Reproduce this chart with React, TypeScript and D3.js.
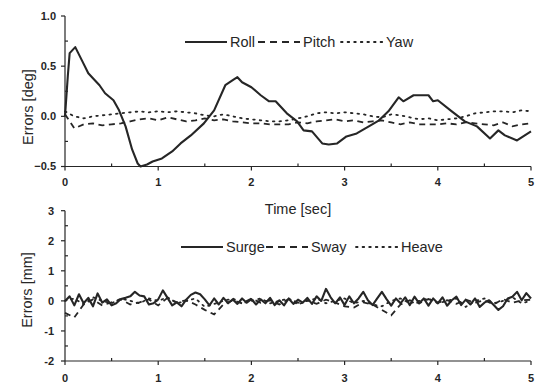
import React from "react";
import * as d3 from "d3";

// ---------- DATA ----------
const rollT = [0, 0.03, 0.05, 0.11, 0.18, 0.25, 0.32, 0.37, 0.43, 0.52, 0.58, 0.65, 0.72, 0.78, 0.81, 0.88, 0.94, 1.04, 1.15, 1.24, 1.35, 1.49, 1.6, 1.72, 1.8, 1.85, 1.9, 2.0, 2.1, 2.19, 2.26, 2.38, 2.49, 2.56, 2.65, 2.76, 2.83, 2.92, 3.02, 3.13, 3.26, 3.37, 3.47, 3.58, 3.63, 3.74, 3.9, 3.95, 4.0, 4.15, 4.29, 4.42, 4.56, 4.65, 4.72, 4.85, 5.0];
const rollV = [0, 0.4, 0.63, 0.69, 0.56, 0.43, 0.36, 0.31, 0.23, 0.16, 0.06, -0.1, -0.33, -0.47, -0.5, -0.48, -0.45, -0.42, -0.35, -0.27, -0.19, -0.07, 0.06, 0.31, 0.36, 0.39, 0.34, 0.29, 0.21, 0.15, 0.15, 0.03, -0.05, -0.14, -0.15, -0.27, -0.28, -0.27, -0.2, -0.17, -0.1, -0.04, 0.05, 0.19, 0.15, 0.21, 0.21, 0.15, 0.16, 0.05, -0.05, -0.1, -0.22, -0.14, -0.19, -0.24, -0.15];

// sampled every 0.1 s
const pitchV = [0.02, -0.12, -0.08, -0.07, -0.09, -0.08, -0.07, -0.05, -0.03, -0.02, -0.04, -0.01, -0.03, -0.05, -0.04, -0.02, -0.04, -0.03, -0.05, -0.06, -0.07, -0.07, -0.08, -0.08, -0.08, -0.06, -0.07, -0.05, -0.04, -0.03, -0.05, -0.04, -0.06, -0.05, -0.04, -0.06, -0.08, -0.06, -0.08, -0.08, -0.08, -0.07, -0.08, -0.06, -0.07, -0.08, -0.09, -0.06, -0.1, -0.08, -0.07];
const yawV = [0.05, 0.0, -0.02, 0.0, 0.01, 0.02, 0.03, 0.04, 0.05, 0.04, 0.05, 0.04, 0.05, 0.04, 0.03, 0.01, 0.0, 0.02, 0.0, -0.02, -0.03, -0.04, -0.05, -0.05, -0.04, -0.02, 0.0, 0.03, 0.04, 0.03, 0.04, 0.03, 0.02, 0.0, -0.01, 0.02, 0.01, -0.01, -0.03, -0.02, -0.04, -0.03, -0.02, 0.0, 0.03, 0.04, 0.05, 0.05, 0.04, 0.06, 0.05];

// sampled every 0.05 s
const surgeV = [0.0, 0.15, -0.15, 0.22, -0.08, 0.1, -0.18, 0.25, -0.06, 0.05, -0.15, -0.08, 0.06, 0.1, 0.15, 0.3, 0.18, 0.15, -0.12, -0.08, 0.05, 0.35, 0.1, -0.15, -0.05, -0.18, 0.04, 0.2, 0.28, 0.22, 0.05, -0.15, 0.08, -0.12, 0.1, -0.08, 0.05, -0.1, 0.08, -0.06, 0.06, -0.12, 0.05, -0.08, 0.1, -0.14, 0.02, -0.15, 0.08, -0.1, 0.04, -0.06, 0.1, -0.1, 0.15, 0.0, 0.4, 0.12, -0.08, 0.12, -0.14, 0.15, -0.08, 0.08, 0.3, 0.02, -0.14, 0.08, 0.3, 0.06, -0.16, 0.08, -0.08, 0.12, -0.14, 0.14, -0.08, 0.08, -0.16, 0.08, -0.08, 0.12, -0.16, 0.02, 0.14, -0.14, 0.04, -0.12, 0.08, -0.2, -0.06, 0.02, -0.14, -0.3, -0.18, 0.08, 0.14, 0.3, 0.02, 0.26, 0.08];

// sampled every 0.1 s
const swayV = [-0.4, -0.55, -0.12, 0.05, -0.15, -0.05, 0.05, -0.12, -0.05, 0.05, -0.15, 0.1, -0.05, 0.02, -0.12, -0.3, -0.45, -0.12, 0.02, -0.08, 0.08, -0.06, 0.02, -0.12, 0.06, -0.06, 0.02, -0.1, 0.04, -0.06, -0.18, -0.22, -0.05, -0.12, -0.3, -0.48, -0.12, 0.02, -0.08, 0.06, -0.06, 0.02, -0.1, 0.04, -0.06, 0.02, -0.12, 0.06, -0.06, 0.02, 0.04];
const heaveV = [0.0, 0.08, -0.12, 0.12, 0.0, -0.08, 0.08, 0.0, -0.08, 0.08, 0.0, 0.12, -0.08, 0.0, 0.08, -0.2, -0.1, 0.0, 0.08, -0.08, 0.0, 0.08, -0.08, 0.0, 0.08, -0.12, 0.0, 0.08, -0.08, 0.0, 0.08, -0.08, 0.0, -0.12, -0.18, 0.0, 0.08, -0.08, 0.0, 0.08, -0.08, 0.0, 0.08, -0.2, 0.0, 0.08, -0.08, 0.0, 0.12, -0.08, 0.0];

const xTicks = [0, 1, 2, 3, 4, 5];
const xMinor = [0.5, 1.5, 2.5, 3.5, 4.5];
const topYTicks = [-0.5, 0.0, 0.5, 1.0];
const topYMinor = [-0.25, 0.25, 0.75];
const botYTicks = [-2, -1, 0, 1, 2, 3];
const botYMinor = [-1.5, -0.5, 0.5, 1.5, 2.5];

const topLegend = ["Roll", "Pitch", "Yaw"];
const botLegend = ["Surge", "Sway", "Heave"];

// ---------- STYLE ----------
const INK = "#262626";
const FONT = "'Liberation Sans', Arial, sans-serif";
const DASH = "6,4.5";
const DOT = "1.6,5";

const x = d3.scaleLinear().domain([0, 5]).range([65, 531]);
const yTop = d3.scaleLinear().domain([-0.5, 1]).range([166.5, 16]);
const yBot = d3.scaleLinear().domain([-2, 3]).range([361, 210.7]);

function pairs(ts: number[], vs: number[]) {
  return ts.map((t, i) => [t, vs[i]] as [number, number]);
}
function stepPairs(step: number, vs: number[]) {
  return vs.map((v, i) => [+(i * step).toFixed(3), v] as [number, number]);
}

function Axes({ y, yTicks, yMinor, fmt, labelEnd, xLabelY }: any) {
  const [y0, y1] = y.range();
  return (
    <g stroke={INK} strokeWidth={1.2} fill="none">
      <line x1={x(0)} x2={x(0)} y1={y0} y2={y1} />
      <line x1={x(0)} x2={x(5)} y1={y0} y2={y0} />
      {yTicks.map((t: number) => (
        <g key={"yt" + t}>
          <line x1={x(0) - 4} x2={x(0)} y1={y(t)} y2={y(t)} />
          <text x={labelEnd} y={y(t)} dy="0.36em" textAnchor="end" stroke="none" fill={INK}
            fontFamily={FONT} fontSize={11} fontWeight="bold">{fmt(t)}</text>
        </g>
      ))}
      {yMinor.map((t: number) => (
        <line key={"ym" + t} x1={x(0)} x2={x(0) + 3} y1={y(t)} y2={y(t)} />
      ))}
      {xTicks.map((t) => (
        <g key={"xt" + t}>
          <line x1={x(t)} x2={x(t)} y1={y0} y2={y0 + 4} />
          <text x={x(t)} y={xLabelY} textAnchor="middle" stroke="none" fill={INK}
            fontFamily={FONT} fontSize={11} fontWeight="bold">{t}</text>
        </g>
      ))}
      {xMinor.map((t) => (
        <line key={"xm" + t} x1={x(t)} x2={x(t)} y1={y0} y2={y0 - 3} />
      ))}
    </g>
  );
}

function Legend({ names, y, starts }: { names: string[]; y: number; starts: number[] }) {
  const styles = [undefined, "7,5", DOT];
  return (
    <g fontFamily={FONT} fontSize={14.5} fill={INK}>
      {names.map((n, i) => (
        <g key={n}>
          <line x1={starts[i]} x2={starts[i] + 42} y1={y} y2={y} stroke={INK} strokeWidth={i === 2 ? 1.8 : 2}
            strokeDasharray={styles[i]} strokeLinecap={i === 2 ? "round" : "butt"} />
          <text x={starts[i] + 45} y={y} dy="0.36em">{n}</text>
        </g>
      ))}
    </g>
  );
}

export default function App() {
  const lineTop = d3.line<[number, number]>().x((d) => x(d[0])).y((d) => yTop(d[1]));
  const lineBot = d3.line<[number, number]>().x((d) => x(d[0])).y((d) => yBot(d[1]));
  const fmtTop = (v: number) => d3.format(".1f")(v);
  const fmtBot = (v: number) => String(v);

  return (
    <svg width={539} height={383} style={{ position: "absolute", left: 0, top: 0, background: "#fff" }}>
      <rect width={539} height={383} fill="#fff" />
      {/* Top panel */}
      <Axes y={yTop} yTicks={topYTicks} yMinor={topYMinor} fmt={fmtTop} labelEnd={56} xLabelY={186} />
      <path d={lineTop(stepPairs(0.1, yawV)) || ""} fill="none" stroke={INK} strokeWidth={1.8}
        strokeDasharray={DOT} strokeLinecap="round" />
      <path d={lineTop(stepPairs(0.1, pitchV)) || ""} fill="none" stroke={INK} strokeWidth={1.8}
        strokeDasharray={DASH} />
      <path d={lineTop(pairs(rollT, rollV)) || ""} fill="none" stroke={INK} strokeWidth={2.1}
        strokeLinejoin="round" />
      <Legend names={topLegend} y={42} starts={[185, 258, 341]} />
      <text x={298} y={209} dy="0.36em" textAnchor="middle" fontFamily={FONT} fontSize={14.5} fill={INK}>Time [sec]</text>
      <text transform="translate(28,107) rotate(-90)" textAnchor="middle" dy="0.36em" fontFamily={FONT}
        fontSize={14.5} fill={INK}>Errors [deg]</text>

      {/* Bottom panel */}
      <Axes y={yBot} yTicks={botYTicks} yMinor={botYMinor} fmt={fmtBot} labelEnd={54} xLabelY={382} />
      <path d={lineBot(stepPairs(0.1, heaveV)) || ""} fill="none" stroke={INK} strokeWidth={1.8}
        strokeDasharray={DOT} strokeLinecap="round" />
      <path d={lineBot(stepPairs(0.1, swayV)) || ""} fill="none" stroke={INK} strokeWidth={1.8}
        strokeDasharray={DASH} />
      <path d={lineBot(stepPairs(0.05, surgeV)) || ""} fill="none" stroke={INK} strokeWidth={2.1}
        strokeLinejoin="round" />
      <Legend names={botLegend} y={247} starts={[181, 266, 356]} />
      <text transform="translate(27,290) rotate(-90)" textAnchor="middle" dy="0.36em" fontFamily={FONT}
        fontSize={14.5} fill={INK}>Errors [mm]</text>
    </svg>
  );
}
